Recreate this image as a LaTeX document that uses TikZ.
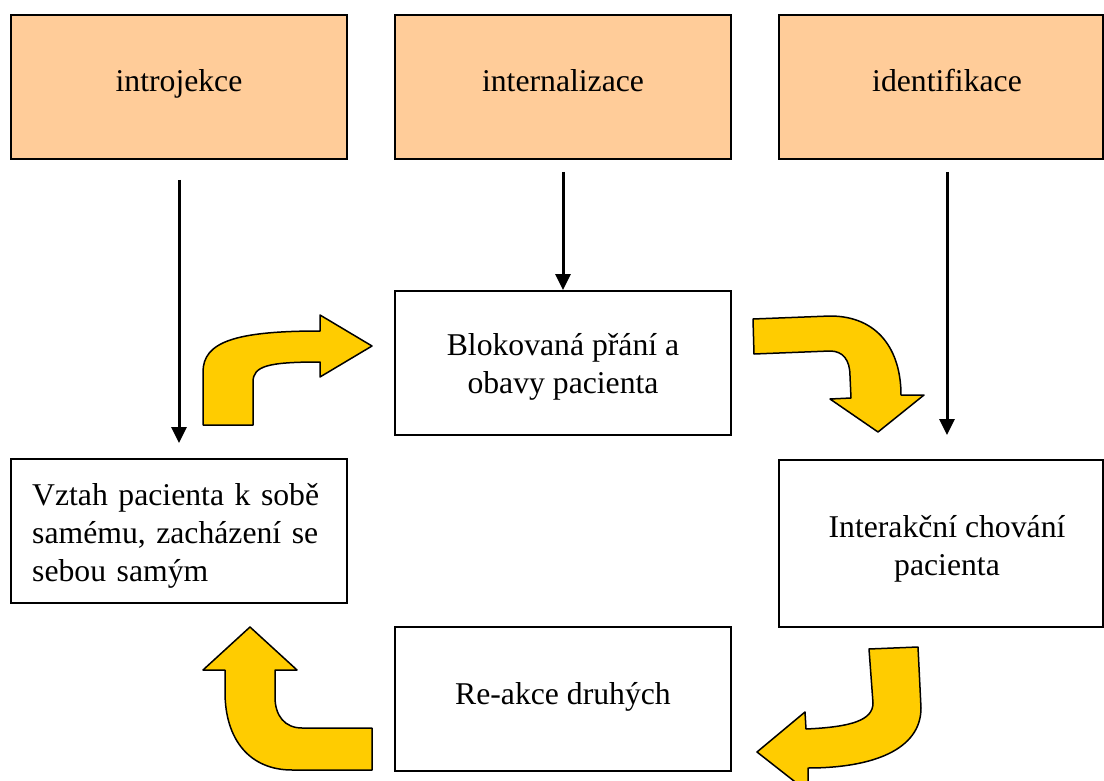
\documentclass[tikz,border=0pt]{standalone}
\usepackage{fontspec}
\setmainfont{Liberation Serif}
\usetikzlibrary{arrows.meta}
\definecolor{peach}{HTML}{FFCC99}
\definecolor{yarrow}{HTML}{FFCC00}
\tikzset{
  box/.style={draw=black, line width=1.8pt, minimum width=336pt, minimum height=144pt, inner sep=0pt},
  topbox/.style={box, fill=peach},
  txt/.style={inner sep=0pt, font=\fontsize{31.7}{38}\selectfont, align=center, anchor=base},
  arr/.style={line width=3pt, -{Triangle[length=16pt,width=15pt]}},
  bent/.style={fill=yarrow, draw=black, line width=1.5pt, line join=round}
}
\begin{document}
\begin{tikzpicture}[x=1pt,y=-1pt]
\useasboundingbox (0,0) rectangle (1104,781);
\clip (0,0) rectangle (1104,781);
\fill[white] (0,0) rectangle (1104,781);

% top boxes
\node[topbox] (intro) at (179,87) {};
\node[topbox] (inter) at (563,87) {};
\node[topbox, minimum width=324pt] (ident) at (941,87) {};
\node[txt] (introT) at (179,92) {introjekce};
\node[txt] (interT) at (563,92) {internalizace};
\node[txt] (identT) at (947,92) {identifikace};

% lower boxes
\node[box] (blok) at (563,363) {};
\node[box] (vztah) at (179,531) {};
\node[box, minimum width=324pt, minimum height=167pt] (inte) at (941,543.5) {};
\node[box] (reak) at (563,699) {};

\node[txt] (blokT) at (563,393) {Blokovaná přání a\\obavy pacienta};
\node[txt, anchor=base west, align=left, text width=300pt] (vztahT) at (32,505)
  {Vztah pacienta k sobě\\samému, zacházení se\\sebou samým};
\node[txt] (inteT) at (947,575) {Interakční chování\\pacienta};
\node[txt] (reakT) at (563,704) {Re-akce druhých};

% black arrows
\coordinate (a1s) at (179,180);
\coordinate (a1e) at (179,443);
\coordinate (a2s) at (563,172);
\coordinate (a3s) at (947,172);
\coordinate (a3e) at (947,435);
\draw[arr] (a1s) -- (a1e);
\draw[arr] (a2s) -- (a2s |- blok.north);
\draw[arr] (a3s) -- (a3e);

% yellow bent arrows
\filldraw[bent] (203,425) -- (203,372) .. controls (203,342) and (235,331) .. (320,331)
  -- (320,315) -- (372,346) -- (320,377) -- (320,362)
  .. controls (268,362) and (253,366) .. (253,382) -- (253,425) -- cycle;

\filldraw[bent] (753,319) -- (830,316) .. controls (878,316) and (901,350) .. (901,395)
  -- (924,395) -- (878,432) -- (830,399) -- (851,398) -- (850,376)
  .. controls (850,360) and (843,351) .. (830,351) -- (754,354) -- cycle;

\filldraw[bent] (869,649) -- (918,647) -- (921,708) .. controls (921,750) and (872,768) .. (808,768)
  -- (808,792) -- (757,752) -- (805,712) -- (806,729)
  .. controls (852,727) and (873,720) .. (873,703) -- cycle;

\filldraw[bent] (372,770) -- (292,770) .. controls (250,770) and (225,740) .. (225,692)
  -- (225,670) -- (203,670) -- (250,627) -- (297,670) -- (275,670) -- (275,697)
  .. controls (275,716) and (285,728) .. (302,728) -- (372,728) -- cycle;
\end{tikzpicture}
\end{document}
